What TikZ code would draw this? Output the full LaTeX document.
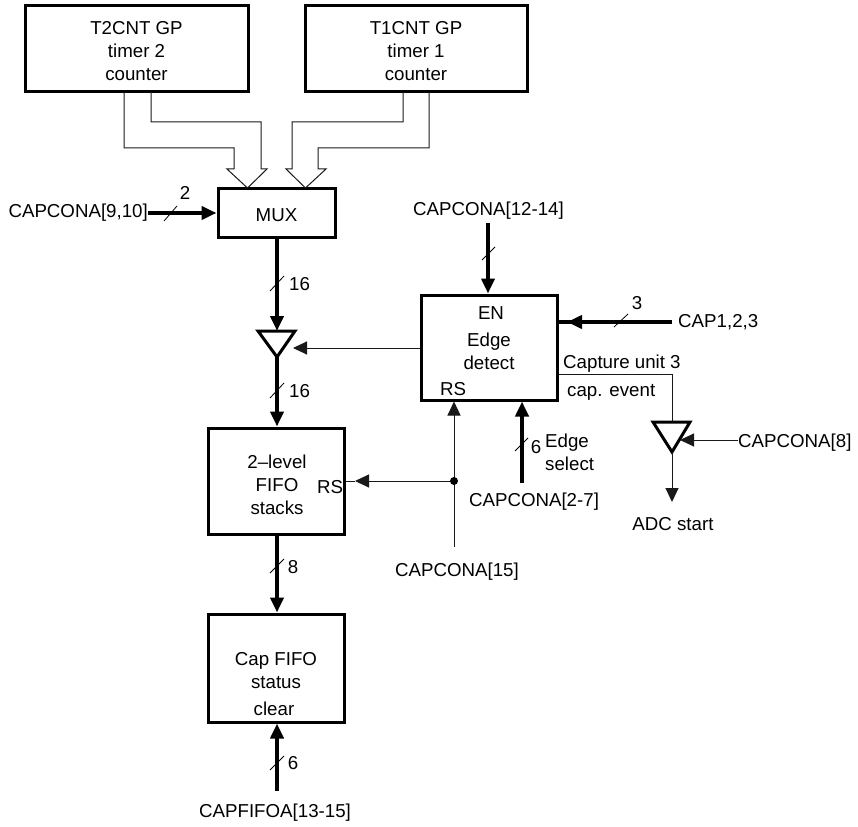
\documentclass[tikz,border=0pt]{standalone}
\usepackage{fontspec}
\setmainfont{Liberation Sans}
\usetikzlibrary{arrows.meta}
\begin{document}
\begin{tikzpicture}[x=1pt,y=-1pt,
  every node/.style={font=\fontsize{18.7}{23}\selectfont, inner sep=0pt},
  blk/.style={draw, line width=3pt, inner sep=0pt},
  lbl/.style={align=center},
  bus/.style={line width=4pt, -{Triangle[length=15pt,width=13pt]}},
  busn/.style={line width=4pt},
  thin/.style={line width=1pt, black!90},
  thinarr/.style={line width=1pt, black!90, -{Triangle[length=14pt,width=13pt]}},
  hollow/.style={line width=1pt, black!90, line join=miter},
  slash/.style={line width=0.8pt},
  tri/.style={line width=3pt, line join=miter}
]
\useasboundingbox (0,0) rectangle (858,826);

% boxes
\node[blk, minimum width=223pt, minimum height=86pt] (t2) at (136.5,49) {};
\node[lbl] (t2t) at (136.5,51.5) {T2CNT GP\\timer 2\\counter};
\node[blk, minimum width=222pt, minimum height=86pt] (t1) at (416,49) {};
\node[lbl] (t1t) at (416,51.5) {T1CNT GP\\timer 1\\counter};
\node[blk, minimum width=117pt, minimum height=48pt] (mux) at (276.5,213) {};
\node (muxt) at (276.5,215) {MUX};
\node[blk, minimum width=136pt, minimum height=105pt] (ed) at (489,347.5) {};
\node (en) at (491,313) {EN};
\node[lbl] (edt) at (489,351) {Edge\\detect};
\node (rs1) at (453,389) {RS};
\node[blk, minimum width=136pt, minimum height=106pt] (fifo) at (276,481) {};
\node[lbl] (fifot) at (277,485) {2\textendash level\\FIFO\\stacks};
\node (rs2) at (330,487) {RS};
\node[blk, minimum width=136pt, minimum height=108pt] (cap) at (276,668) {};
\node[lbl] (capt) at (276,671) {Cap FIFO\\status};
\node (clr) at (274,709) {clear};

% hollow arrows from timers
\draw[hollow] (124,92) -- (124,148) -- (234,148) -- (234,169) -- (227,169) -- (247.5,188) -- (267,169) -- (261,169) -- (261,122) -- (151,122) -- (151,92);
\draw[hollow] (429,92) -- (429,148) -- (318,148) -- (318,169) -- (326,169) -- (305.5,188) -- (286,169) -- (292,169) -- (292,122) -- (403,122) -- (403,92);

% CAPCONA[9,10] -> MUX
\node[anchor=east] (c910) at (148,213) {CAPCONA[9,10]};
\draw[bus] (c910.east) -- (mux.west |- c910.east);
\draw[slash] (164,221) -- (177,206);
\node (n2) at (185,193) {2};

% buffer 1
\coordinate (b1l) at (258,331);
\coordinate (b1r) at (295,331);
\coordinate (b1tip) at (277,357);
\draw[tri] (b1l) -- (b1r) -- (b1tip) -- cycle;
\draw[bus] (mux.south -| b1tip) -- (b1tip |- b1l);
\draw[slash] (270,291) -- (284,276);
\node[anchor=west] (n16a) at (289,284) {16};
\coordinate (b1c) at (293,348);
\draw[thinarr] (ed.west |- b1c) -- (b1c);

\draw[bus] (b1tip) -- (fifo.north -| b1tip);
\draw[slash] (270,398) -- (284,383);
\node[anchor=west] (n16b) at (289,391) {16};

% CAPCONA[12-14]
\node (c1214) at (488.5,211) {CAPCONA[12-14]};
\coordinate (c1214b) at (488,223);
\draw[bus] (c1214b) -- (c1214b |- ed.north);
\draw[slash] (482,260) -- (495,247);

% CAP1,2,3
\node[anchor=west] (cap123) at (678,322) {CAP1,2,3};
\coordinate (capin) at (672,322);
\draw[busn] (capin) -- (ed.east |- capin);
\draw[bus] (capin) -- (567,322);
\draw[slash] (614,327) -- (628,314);
\node (n3) at (637,303) {3};

% capture unit 3 / buffer 2
\node[anchor=west] (cu3) at (563,364) {Capture unit 3};
\node[anchor=west] (cev) at (567,392) {cap. event};
\coordinate (b2l) at (653,422);
\coordinate (b2r) at (690,422);
\coordinate (b2tip) at (672,452);
\draw[thin] (ed.east |- 0,374) -- (672,374) -- (672,422);
\draw[tri] (b2l) -- (b2r) -- (b2tip) -- cycle;
\node[anchor=west] (c8) at (738,443) {CAPCONA[8]};
\draw[thinarr] (c8.west |- 0,440) -- (680,440);
\node (adc) at (673,524) {ADC start};
\draw[thinarr] (b2tip) -- (672,502);

% CAPCONA[15] and RS lines
\node (c15) at (457,572) {CAPCONA[15]};
\coordinate (c15t) at (454,547);
\coordinate (dot) at (454,481);
\draw[thinarr] (c15t) -- (c15t |- ed.south);
\draw[thinarr] (dot) -- (355,481);
\draw[thin] (355,481) -- (fifo.east |- dot);
\fill (dot) circle (4pt);

% Edge select CAPCONA[2-7]
\node (c27) at (534,502) {CAPCONA[2-7]};
\coordinate (c27t) at (522,483);
\draw[bus] (c27t) -- (c27t |- ed.south);
\draw[slash] (515,451) -- (528,438);
\node (n6a) at (536,447) {6};
\node[anchor=west, align=left] (es) at (545,452) {Edge\\select};

% FIFO -> Cap FIFO
\draw[bus] (fifo.south -| b1tip) -- (cap.north -| b1tip);
\draw[slash] (270,573) -- (284,559);
\node (n8) at (293,567) {8};

% CAPFIFOA input
\node (cfa) at (275,813) {CAPFIFOA[13-15]};
\coordinate (cfat) at (277,791);
\draw[bus] (cfat) -- (cfat |- cap.south);
\draw[slash] (270,770) -- (284,756);
\node (n6b) at (293,763) {6};
\end{tikzpicture}
\end{document}
